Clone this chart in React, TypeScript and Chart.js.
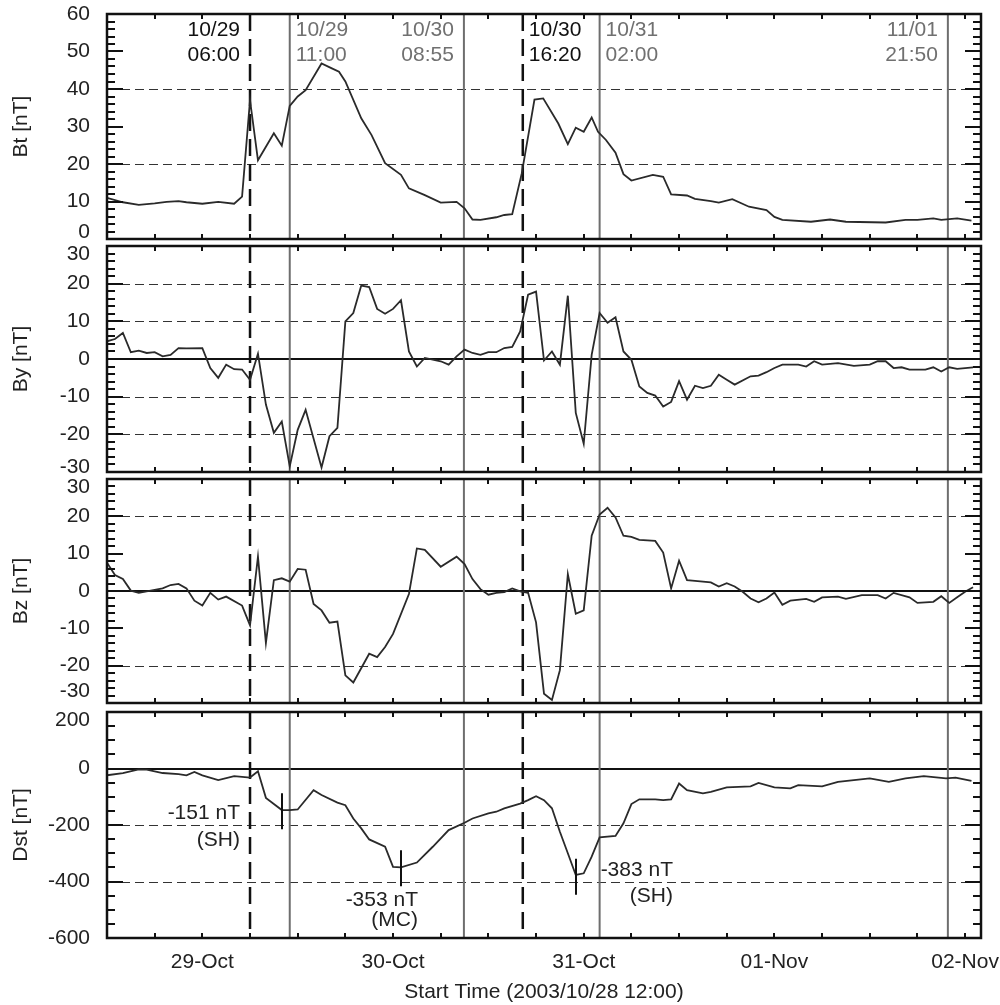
import React, { useEffect, useRef } from 'react';
import { Chart, registerables } from 'chart.js';

Chart.register(...registerables);

const FONT = "'Liberation Sans', Arial, Helvetica, sans-serif";
const FONT_SIZE = 21;
const TEXT = '#222222';
const GRAY_TEXT = '#707070';
const LINE_COLOR = '#2a2a2a';

// time axis: hours since 2003/10/28 12:00
const X_MIN = 0;
const X_MAX = 110;
const X_MINOR_STEP = 6;
const dayTickHours = [12, 36, 60, 84, 108];
const dayTickLabels = ['29-Oct', '30-Oct', '31-Oct', '01-Nov', '02-Nov'];
const xAxisTitle = 'Start Time (2003/10/28 12:00)';

// event markers
const eventHours = [18, 23, 44.92, 52.33, 62, 105.83];
const eventDates = ['10/29', '10/29', '10/30', '10/30', '10/31', '11/01'];
const eventTimes = ['06:00', '11:00', '08:55', '16:20', '02:00', '21:50'];
const eventDashed = [true, false, false, true, false, false];
const eventLabelLeft = [true, false, true, false, false, true];

// Dst minima annotations
const dstMarkHours = [22, 37, 59];
const dstMarkValues = [-151, -353, -383];
const dstMarkText = ['-151 nT', '-353 nT', '-383 nT'];
const dstMarkType = ['(SH)', '(MC)', '(SH)'];

// Bt
const btHours = [0, 2, 4, 6, 7.5, 9, 10, 12, 14, 16, 17, 18, 19, 21, 22, 23, 24, 25, 27, 28.3, 29.2, 30, 32, 33.3, 35, 37, 38, 40, 42, 44, 45, 46, 47, 49, 50, 51, 52.2, 53.8, 54.9, 56.8, 58, 59, 60, 61, 61.8, 62.8, 64, 65, 66, 68.7, 70, 71, 73, 74, 76, 77, 78.7, 80.8, 83, 84, 85, 88.6, 91, 93, 98, 100.5, 102, 104, 105, 107, 108.8];
const btValues = [11, 9.8, 9.1, 9.5, 9.9, 10.1, 9.8, 9.4, 9.9, 9.4, 11.3, 37, 21, 28.2, 24.9, 35.5, 38, 39.7, 46.8, 45.5, 44.6, 42, 32.2, 27.7, 20.2, 17.1, 13.5, 11.7, 9.7, 9.9, 8.2, 5.2, 5.1, 5.8, 6.4, 6.6, 17.5, 37.2, 37.5, 30.8, 25.3, 29.7, 28.6, 32.4, 28.6, 26.4, 23, 17.3, 15.6, 17.1, 16.6, 11.9, 11.6, 10.7, 10.1, 9.7, 10.6, 8.6, 7.7, 5.9, 5.1, 4.6, 5.2, 4.6, 4.4, 5.1, 5.1, 5.5, 5.1, 5.5, 4.9];

// By
const byHours = [0, 1, 2, 3, 4, 5, 6, 7, 8, 9, 10, 12, 13, 14, 15, 16, 17, 18, 19, 20, 21, 22, 23, 24, 25, 27, 28, 29, 30, 31, 32, 33, 34, 35, 36, 37, 38, 39, 40, 42, 43, 44, 45, 46, 47, 48, 49, 50, 51, 52, 53, 54, 55, 56, 57, 58, 59, 60, 61, 62, 63, 64, 65, 66, 67, 68, 69, 70, 71, 72, 73, 74, 75, 76, 77, 78, 79, 81, 82, 83, 84, 85, 87, 88, 89, 90, 92, 94, 96, 97, 98, 99, 100, 101, 103, 104, 105, 106, 107, 109];
const byValues = [4.7, 5.3, 6.9, 1.8, 2.2, 1.6, 1.8, 0.7, 1.1, 2.9, 2.8, 2.9, -2.4, -5.0, -1.5, -2.7, -2.8, -5.5, 1.4, -12.1, -19.6, -16.6, -28.5, -18.8, -13.5, -28.8, -20.5, -18.3, 10, 12.2, 19.5, 19.1, 13.3, 12, 13.3, 15.6, 2.0, -2.0, 0.3, -0.6, -1.5, 0.7, 2.5, 1.6, 1.1, 1.8, 1.8, 2.9, 3.2, 7.3, 17.1, 17.9, -0.4, 2.0, -1.5, 16.8, -14.3, -22.5, 1.1, 12.2, 9.6, 11.1, 2.0, -0.2, -7.3, -9.0, -9.7, -12.6, -11.4, -5.9, -10.8, -7.1, -7.7, -7.1, -4.2, -5.5, -6.8, -4.6, -4.4, -3.5, -2.4, -1.5, -1.5, -2.0, -0.6, -1.5, -1.1, -1.8, -1.5, -0.6, -0.6, -2.4, -2.2, -2.8, -2.8, -2.2, -3.3, -2.2, -2.6, -2.2];

// Bz
const bzHours = [0, 1, 2, 3, 4, 6, 7, 8, 9, 10, 11, 12, 13, 14, 15, 17, 18, 19, 20, 21, 22, 23, 24, 25, 26, 27, 28, 29, 30, 31, 33, 34, 35, 36, 38, 39, 40, 42, 44, 45, 46, 47, 48, 49, 50, 51, 52, 53, 54, 55, 56, 57, 58, 59, 60, 61, 62, 63, 64, 65, 66, 67, 69, 70, 71, 72, 73, 74, 76, 77, 78, 79, 80, 81, 82, 83, 84, 85, 86, 88, 89, 90, 92, 93, 95, 97, 98, 99, 101, 102, 104, 105, 106, 107, 108, 109];
const bzValues = [7.6, 4.3, 3.2, 0.1, -0.5, 0.3, 0.7, 1.6, 1.9, 0.7, -2.6, -3.9, -0.5, -2.3, -1.5, -3.9, -9.2, 9.2, -13.9, 2.9, 3.4, 2.5, 5.9, 5.7, -3.5, -5.2, -8.5, -8.2, -22.6, -24.5, -16.8, -17.7, -15.0, -11.5, -0.8, 11.4, 11.0, 6.5, 9.2, 7.2, 3.2, 0.5, -1.0, -0.5, -0.3, 0.7, -0.1, -0.5, -8.4, -27.5, -29.2, -21.2, 4.5, -6.1, -5.2, 14.8, 20.5, 22.3, 19.7, 14.8, 14.5, 13.7, 13.4, 10.3, 0.7, 8.1, 2.9, 2.7, 2.3, 1.2, 2.1, 1.2, -0.2, -2.0, -3.0, -2.0, -0.4, -3.7, -2.6, -2.1, -2.9, -1.7, -1.5, -2.1, -1.1, -1.1, -2.0, -0.5, -1.7, -3.2, -2.9, -1.4, -3.2, -1.7, -0.2, 1.0];

// Dst
const dstHours = [0, 2, 4, 5, 7, 9, 10, 11, 12, 14, 16, 18, 19, 20, 22, 23, 24, 26, 27, 29, 30, 31, 32, 33, 35, 36, 37, 39, 41, 43, 45, 46, 48, 49, 50, 52, 53, 54, 55, 56, 57, 58, 59, 60, 61, 62, 64, 65, 66, 67, 69, 70, 71, 72, 73, 75, 76, 78, 81, 82, 84, 86, 87, 90, 92, 96, 98.4, 100.5, 102.8, 105.6, 106.8, 108.8];
const dstValues = [-24, -16, -3, -4, -16, -20, -24, -12, -24, -41, -27, -32, -10, -104, -147, -147, -145, -77, -94, -121, -130, -177, -212, -251, -277, -348, -350, -333, -277, -218, -192, -177, -159, -153, -141, -124, -112, -98, -112, -141, -224, -300, -377, -371, -312, -244, -239, -194, -126, -109, -109, -112, -109, -53, -77, -88, -83, -67, -63, -51, -67, -70, -59, -63, -47, -35, -47, -35, -27, -35, -32, -44];

type PanelCfg = {
  id: string;
  title: string;
  hours: number[];
  values: number[];
  yMin: number;
  yMax: number;
  yStep: number;
  yMinor: number;
  dashed: number[];
  zero: boolean;
  top: number;
  bottom: number;
  topShift: number;
  bottomShift: number;
  isBottom?: boolean;
  eventLabels?: boolean;
  dstMarks?: boolean;
};

const PANELS: PanelCfg[] = [
  { id: 'bt', title: 'Bt [nT]', hours: btHours, values: btValues, yMin: 0, yMax: 60, yStep: 10, yMinor: 2, dashed: [20, 40], zero: false, top: 14, bottom: 239, topShift: 0, bottomShift: -7, eventLabels: true },
  { id: 'by', title: 'By [nT]', hours: byHours, values: byValues, yMin: -30, yMax: 30, yStep: 10, yMinor: 2, dashed: [-20, -10, 10, 20], zero: true, top: 246, bottom: 472, topShift: 8, bottomShift: -5 },
  { id: 'bz', title: 'Bz [nT]', hours: bzHours, values: bzValues, yMin: -30, yMax: 30, yStep: 10, yMinor: 2, dashed: [-20, 20], zero: true, top: 479, bottom: 703, topShift: 8, bottomShift: -12 },
  { id: 'dst', title: 'Dst [nT]', hours: dstHours, values: dstValues, yMin: -600, yMax: 200, yStep: 200, yMinor: 50, dashed: [-400, -200], zero: true, top: 712, bottom: 938, topShift: 8, bottomShift: 0, isBottom: true, dstMarks: true },
];

const PAD = 14;
const PAGE_H = 1005;

// label layout for Dst annotations: [right-aligned x offset, first line dy, second line dy]
const dstLabelLayout = [
  [-42, 2, 29],
  [17, 32, 52],
  [97, -6, 20],
];

function makeDecor(cfg: PanelCfg) {
  return {
    id: 'decor_' + cfg.id,
    beforeDatasetsDraw(chart: any) {
      const { ctx, chartArea: a, scales } = chart;
      const xs = scales.x;
      const ys = scales.y;
      ctx.save();
      ctx.strokeStyle = '#333';
      ctx.lineWidth = 1.2;
      ctx.setLineDash([9, 5]);
      cfg.dashed.forEach((v) => {
        const y = Math.round(ys.getPixelForValue(v)) + 0.5;
        ctx.beginPath();
        ctx.moveTo(a.left, y);
        ctx.lineTo(a.right, y);
        ctx.stroke();
      });
      if (cfg.zero) {
        ctx.setLineDash([]);
        ctx.strokeStyle = '#111';
        ctx.lineWidth = 2;
        const y = Math.round(ys.getPixelForValue(0));
        ctx.beginPath();
        ctx.moveTo(a.left, y);
        ctx.lineTo(a.right, y);
        ctx.stroke();
      }
      eventHours.forEach((h, i) => {
        const x = xs.getPixelForValue(h);
        if (eventDashed[i]) {
          ctx.setLineDash([17, 8]);
          ctx.strokeStyle = '#111';
          ctx.lineWidth = 2.5;
        } else {
          ctx.setLineDash([]);
          ctx.strokeStyle = '#6e6e6e';
          ctx.lineWidth = 2;
        }
        ctx.beginPath();
        ctx.moveTo(x, a.top);
        ctx.lineTo(x, a.bottom);
        ctx.stroke();
      });
      ctx.restore();
    },
    afterDraw(chart: any) {
      const { ctx, chartArea: a, scales } = chart;
      const xs = scales.x;
      const ys = scales.y;
      ctx.save();
      ctx.setLineDash([]);
      ctx.strokeStyle = '#111';
      ctx.lineWidth = 2;
      const nMinor = Math.round((cfg.yMax - cfg.yMin) / cfg.yMinor);
      for (let k = 0; k <= nMinor; k++) {
        const v = cfg.yMin + k * cfg.yMinor;
        const r = (v - cfg.yMin) / cfg.yStep;
        const major = Math.abs(r - Math.round(r)) < 1e-6;
        const len = major ? 16 : 8;
        const y = Math.round(ys.getPixelForValue(v));
        ctx.beginPath();
        ctx.moveTo(a.left, y);
        ctx.lineTo(a.left + len, y);
        ctx.moveTo(a.right - len, y);
        ctx.lineTo(a.right, y);
        ctx.stroke();
      }
      for (let h = X_MINOR_STEP; h < X_MAX; h += X_MINOR_STEP) {
        const x = Math.round(xs.getPixelForValue(h));
        ctx.beginPath();
        ctx.moveTo(x, a.top);
        ctx.lineTo(x, a.top + 5);
        ctx.moveTo(x, a.bottom - 5);
        ctx.lineTo(x, a.bottom);
        ctx.stroke();
      }
      ctx.lineWidth = 2.5;
      ctx.strokeRect(a.left, a.top, a.right - a.left, a.bottom - a.top);

      ctx.font = `${FONT_SIZE}px ${FONT}`;
      ctx.fillStyle = TEXT;
      ctx.textAlign = 'right';
      ctx.textBaseline = 'middle';
      ctx.fillText(String(cfg.yMax), a.left - 17, ys.getPixelForValue(cfg.yMax) + cfg.topShift);
      ctx.fillText(String(cfg.yMin), a.left - 17, ys.getPixelForValue(cfg.yMin) + cfg.bottomShift);

      if (cfg.eventLabels) {
        eventHours.forEach((h, i) => {
          const x = xs.getPixelForValue(h);
          ctx.fillStyle = eventDashed[i] ? '#111' : GRAY_TEXT;
          ctx.textAlign = eventLabelLeft[i] ? 'right' : 'left';
          const tx = eventLabelLeft[i] ? x - 10 : x + 6;
          ctx.fillText(eventDates[i], tx, a.top + 16);
          ctx.fillText(eventTimes[i], tx, a.top + 41);
        });
      }

      if (cfg.dstMarks) {
        dstMarkHours.forEach((h, i) => {
          const x = Math.round(xs.getPixelForValue(h));
          const y = ys.getPixelForValue(dstMarkValues[i]);
          ctx.strokeStyle = '#111';
          ctx.lineWidth = 2;
          ctx.beginPath();
          ctx.moveTo(x, y - 18);
          ctx.lineTo(x, y + 18);
          ctx.stroke();
          const [dx, dy1, dy2] = dstLabelLayout[i];
          ctx.fillStyle = TEXT;
          ctx.textAlign = 'right';
          ctx.fillText(dstMarkText[i], x + dx, y + dy1);
          ctx.fillText(dstMarkType[i], x + dx, y + dy2);
        });
      }
      ctx.restore();
    },
  };
}

function Panel({ cfg }: { cfg: PanelCfg }) {
  const ref = useRef<HTMLCanvasElement | null>(null);
  const canvasTop = cfg.top - PAD;
  const canvasH = cfg.isBottom ? PAGE_H - canvasTop : cfg.bottom - cfg.top + 2 * PAD;
  const xHeight = cfg.isBottom ? PAGE_H - cfg.bottom : 0;

  useEffect(() => {
    if (!ref.current) return;
    const font = { family: FONT, size: FONT_SIZE };
    const chart = new Chart(ref.current, {
      type: 'line',
      data: {
        datasets: [
          {
            data: cfg.hours.map((h, i) => ({ x: h, y: cfg.values[i] })),
            borderColor: LINE_COLOR,
            borderWidth: 1.8,
            pointRadius: 0,
            fill: false,
            tension: 0,
          },
        ],
      },
      options: {
        animation: false,
        responsive: false,
        maintainAspectRatio: false,
        devicePixelRatio: 1,
        events: [],
        layout: { autoPadding: false, padding: { left: 0, right: 19, top: PAD, bottom: cfg.isBottom ? 0 : PAD } },
        plugins: { legend: { display: false }, tooltip: { enabled: false } },
        scales: {
          x: {
            type: 'linear',
            min: X_MIN,
            max: X_MAX,
            display: !!cfg.isBottom,
            grid: { display: false, drawTicks: false },
            border: { display: false },
            afterBuildTicks: (s: any) => {
              s.ticks = dayTickHours.map((v) => ({ value: v }));
            },
            afterFit: (s: any) => {
              s.height = xHeight;
              s.paddingLeft = 0;
              s.paddingRight = 0;
            },
            ticks: {
              autoSkip: false,
              maxRotation: 0,
              padding: 12,
              color: TEXT,
              font,
              callback: (v: any) => {
                const idx = dayTickHours.indexOf(Number(v));
                return idx >= 0 ? dayTickLabels[idx] : '';
              },
            },
            title: {
              display: !!cfg.isBottom,
              text: xAxisTitle,
              color: TEXT,
              font,
              padding: { top: 0, bottom: 0 },
            },
          },
          y: {
            type: 'linear',
            min: cfg.yMin,
            max: cfg.yMax,
            grid: { display: false, drawTicks: false },
            border: { display: false },
            afterFit: (s: any) => {
              s.width = 107;
              s.paddingTop = 0;
              s.paddingBottom = 0;
            },
            ticks: {
              stepSize: cfg.yStep,
              padding: 17,
              color: TEXT,
              font,
              callback: (v: any) => (Number(v) === cfg.yMin || Number(v) === cfg.yMax ? '' : String(v)),
            },
            title: {
              display: true,
              text: cfg.title,
              color: TEXT,
              font,
              padding: { top: 9, bottom: 0 },
            },
          },
        },
      },
      plugins: [makeDecor(cfg)],
    } as any);
    return () => chart.destroy();
  }, []);

  return (
    <canvas
      ref={ref}
      width={1000}
      height={canvasH}
      style={{ position: 'absolute', left: 0, top: canvasTop, width: 1000, height: canvasH }}
    />
  );
}

export default function App() {
  return (
    <div
      style={{
        position: 'absolute',
        left: 0,
        top: 0,
        width: 1000,
        height: PAGE_H,
        overflow: 'hidden',
        background: '#ffffff',
      }}
    >
      {PANELS.map((p) => (
        <Panel key={p.id} cfg={p} />
      ))}
    </div>
  );
}
